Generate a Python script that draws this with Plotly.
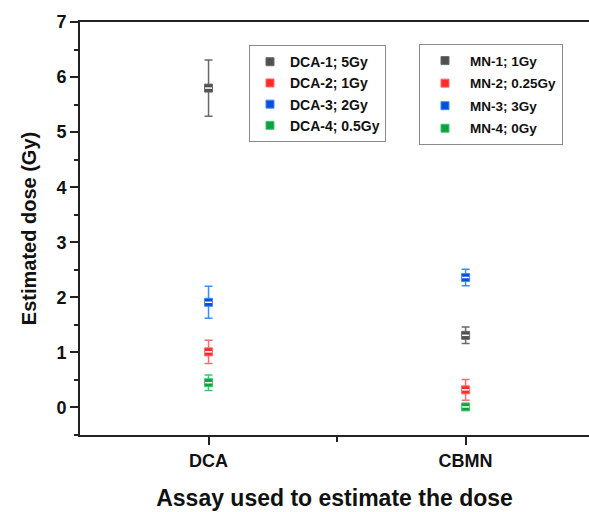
import plotly.graph_objects as go

categories = ["DCA", "CBMN"]

dca_names = ["DCA-1; 5Gy", "DCA-2; 1Gy", "DCA-3; 2Gy", "DCA-4; 0.5Gy"]
dca_values = [5.80, 1.01, 1.91, 0.45]
dca_errors = [0.51, 0.21, 0.29, 0.14]

mn_names = ["MN-1; 1Gy", "MN-2; 0.25Gy", "MN-3; 3Gy", "MN-4; 0Gy"]
mn_values = [1.31, 0.32, 2.36, 0.01]
mn_errors = [0.15, 0.19, 0.15, 0.04]

fill_colors = ["#505050", "#ff2a2a", "#0a4fd6", "#10a040"]
bar_colors = ["#6a6a6a", "#ff6a6a", "#3a8cff", "#3cc873"]

FONT = "Arial, 'Liberation Sans', sans-serif"

fig = go.Figure()


def add_series(xi, names, values, errors, legend):
    for i, (n, v, e) in enumerate(zip(names, values, errors)):
        fig.add_trace(go.Scatter(
            x=[xi], y=[v], name=n, mode="markers",
            legend=legend, legendgroup=f"{legend}{i}",
            marker=dict(symbol="square", size=8, color=fill_colors[i],
                        line=dict(color=bar_colors[i], width=1)),
            error_y=dict(type="data", array=[e], visible=True,
                         color=bar_colors[i], thickness=1.5, width=4),
        ))
        fig.add_trace(go.Scatter(
            x=[xi], y=[v], mode="markers", showlegend=False,
            legend=legend, legendgroup=f"{legend}{i}", hoverinfo="skip",
            marker=dict(symbol="line-ew", size=5,
                        line=dict(color="white", width=1.5)),
        ))


add_series(0, dca_names, dca_values, dca_errors, "legend")
add_series(1, mn_names, mn_values, mn_errors, "legend2")

fig.update_layout(
    width=589, height=512,
    margin=dict(l=80, r=0, t=22, b=77),
    plot_bgcolor="white", paper_bgcolor="white",
    font=dict(family=FONT, color="#111"),
    legend=dict(
        x=0.332, y=0.944, xanchor="left", yanchor="top",
        bordercolor="#8a8a8a", borderwidth=1, bgcolor="white",
        font=dict(family=FONT, size=14, color="#111", weight="bold"),
        tracegroupgap=0, itemwidth=30,
    ),
    legend2=dict(
        x=0.666, y=0.946, xanchor="left", yanchor="top",
        bordercolor="#8a8a8a", borderwidth=1, bgcolor="white",
        font=dict(family=FONT, size=13.5, color="#111", weight="bold"),
        tracegroupgap=2, itemwidth=40,
    ),
    xaxis=dict(
        range=[-0.5, 1.48], showgrid=False, zeroline=False,
        tickmode="array", tickvals=[0, 1], ticktext=categories,
        ticks="outside", ticklen=8, tickwidth=2, tickcolor="#222",
        showline=True, linecolor="#222", linewidth=2, mirror=True,
        tickfont=dict(family=FONT, size=18, color="#111", weight="bold"),
        minor=dict(tickmode="array", tickvals=[0.5], ticks="outside",
                   ticklen=5, tickwidth=2, tickcolor="#222"),
        title=dict(text="Assay used to estimate the dose", standoff=20,
                   font=dict(family=FONT, size=23, color="#111", weight="bold")),
    ),
    yaxis=dict(
        range=[-0.5, 7], showgrid=False, zeroline=False,
        tickmode="linear", tick0=0, dtick=1,
        ticks="outside", ticklen=8, tickwidth=2, tickcolor="#222",
        showline=True, linecolor="#222", linewidth=2, mirror=False,
        tickfont=dict(family=FONT, size=18, color="#111", weight="bold"),
        minor=dict(dtick=0.5, tick0=0, ticks="outside", ticklen=4,
                   tickwidth=2, tickcolor="#222"),
        title=dict(text="Estimated dose (Gy)", standoff=14,
                   font=dict(family=FONT, size=20, color="#111", weight="bold")),
    ),
)

fig.write_html("out.html")
